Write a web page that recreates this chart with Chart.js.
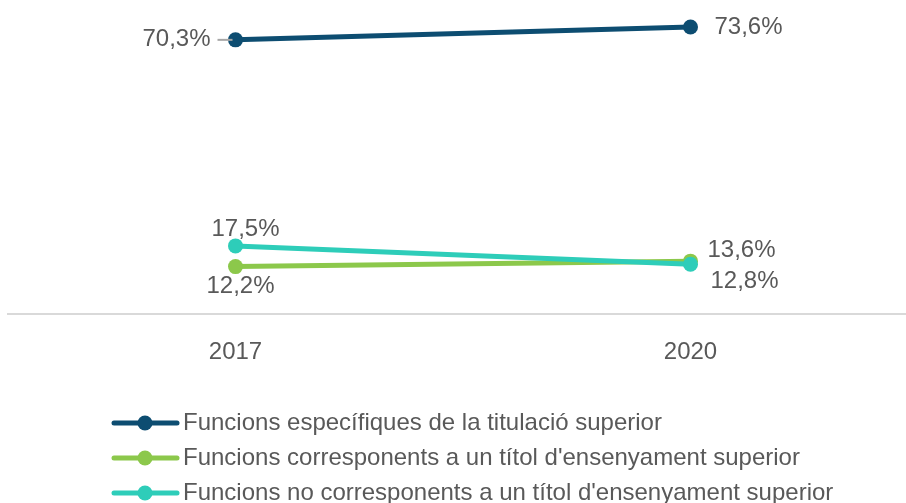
<!DOCTYPE html>
<html>
<head>
<meta charset="utf-8">
<script src="https://cdn.jsdelivr.net/npm/chart.js@4.4.1/dist/chart.umd.min.js"></script>
<style>
  html, body { margin: 0; padding: 0; background: #fff; overflow: hidden; }
  #wrap { position: relative; width: 918px; height: 503px; }
</style>
</head>
<body>
<div id="wrap"><canvas id="myChart"></canvas></div>
<script>
var years = ['2017', '2020'];
var seriesNames = [
  'Funcions específiques de la titulació superior',
  'Funcions corresponents a un títol d\'ensenyament superior',
  'Funcions no corresponents a un títol d\'ensenyament superior'
];
var especifiques = [70.3, 73.6];
var corresponents = [12.2, 13.6];
var noCorresponents = [17.5, 12.8];

var colors = ['#0d4d71', '#8cc84b', '#2ecdb9'];
var textColor = '#595959';
var fontFamily = "'Liberation Sans', Arial, sans-serif";

// where each value label sits, relative to its point: [dx, dy, align]
var labelPlace = [
  [[-25, 0, 'right'], [24, 0, 'left']],
  [[5, 20, 'center'], [17, -11, 'left']],
  [[10, -17, 'center'], [20, 17, 'left']]
];

var ctx = document.getElementById('myChart').getContext('2d');

var valueLabels = {
  id: 'valueLabels',
  afterDatasetsDraw: function(chart) {
    var c = chart.ctx;
    c.save();
    c.font = '24px ' + fontFamily;
    c.fillStyle = textColor;
    c.textBaseline = 'middle';
    chart.data.datasets.forEach(function(ds, i) {
      chart.getDatasetMeta(i).data.forEach(function(pt, j) {
        var p = labelPlace[i][j];
        if (i === 0 && j === 0) {
          c.strokeStyle = '#a6a6a6';
          c.lineWidth = 2;
          c.beginPath();
          c.moveTo(pt.x + p[0] + 7, pt.y);
          c.lineTo(pt.x - 3, pt.y);
          c.stroke();
        }
        c.textAlign = p[2];
        c.fillText(ds.data[j].toFixed(1).replace('.', ',') + '%', pt.x + p[0], pt.y + p[1]);
      });
    });
    c.restore();
  }
};

var lineLegend = {
  id: 'lineLegend',
  afterDraw: function(chart) {
    var c = chart.ctx;
    c.save();
    c.font = '24px ' + fontFamily;
    c.textBaseline = 'middle';
    c.textAlign = 'left';
    chart.data.datasets.forEach(function(ds, i) {
      var y = 423 + i * 35;
      c.strokeStyle = ds.borderColor;
      c.lineWidth = 5;
      c.lineCap = 'round';
      c.beginPath();
      c.moveTo(114, y);
      c.lineTo(177, y);
      c.stroke();
      c.fillStyle = ds.borderColor;
      c.beginPath();
      c.arc(145, y, 7.5, 0, Math.PI * 2);
      c.fill();
      c.fillStyle = textColor;
      c.fillText(ds.label, 183, y);
    });
    c.restore();
  }
};

// lower order is drawn on top (teal over green, as in the original)
function makeSet(label, data, color, order) {
  return {
    label: label,
    data: data,
    order: order,
    borderColor: color,
    backgroundColor: color,
    borderWidth: 5,
    pointRadius: 7.5,
    pointHoverRadius: 7.5,
    pointBorderWidth: 0,
    clip: false
  };
}

var myChart = new Chart(ctx, {
  type: 'line',
  data: {
    labels: years,
    datasets: [
      makeSet(seriesNames[0], especifiques, colors[0], 2),
      makeSet(seriesNames[1], corresponents, colors[1], 1),
      makeSet(seriesNames[2], noCorresponents, colors[2], 0)
    ]
  },
  options: {
    responsive: true,
    maintainAspectRatio: false,
    animation: false,
    layout: { autoPadding: false, padding: { left: 8, right: 0, top: 2, bottom: 112 } },
    plugins: {
      legend: { display: false },
      tooltip: { enabled: false }
    },
    scales: {
      x: {
        offset: true,
        grid: { display: false, drawTicks: false },
        border: { display: true, color: '#d9d9d9', width: 2 },
        ticks: { color: textColor, font: { family: fontFamily, size: 24 }, padding: 24 }
      },
      y: {
        display: false,
        min: 0,
        max: 80
      }
    }
  },
  plugins: [valueLabels, lineLegend]
});
</script>
</body>
</html>
